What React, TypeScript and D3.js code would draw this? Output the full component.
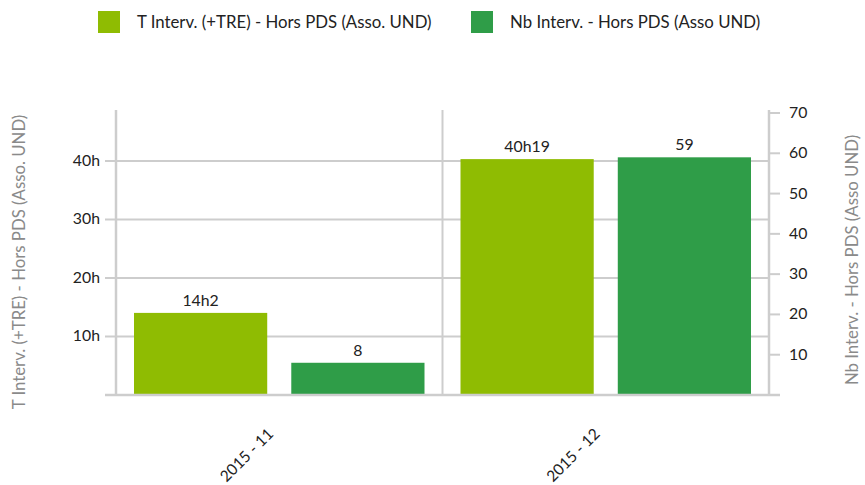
import React from 'react';
import * as d3 from 'd3';

const months = ['2015 - 11', '2015 - 12'];
const seriesNames = ['T Interv. (+TRE) - Hors PDS (Asso. UND)', 'Nb Interv. - Hors PDS (Asso UND)'];
const timeMinutes = [842, 2419]; // 14h2, 40h19
const counts = [8, 59];
const leftTicks = [10, 20, 30, 40];
const rightTicks = [10, 20, 30, 40, 50, 60, 70];
const colors = ['#8fbc02', '#2f9d48'];

const W = 865;
const H = 485;
const font = 'Lato, "Open Sans", sans-serif';
const grid = '#cdcdcd';

const fmtTime = (m: number) => `${Math.floor(m / 60)}h${m % 60}`;

export default function App() {
  const left = 116, right = 769, top = 110, bottom = 395;

  const x0 = d3.scaleBand().domain(months).range([left, right]).padding(0);
  const x1 = d3.scaleBand().domain(['t', 'n']).range([18, x0.bandwidth() - 18]).paddingInner(0.153).paddingOuter(0);
  const yL = d3.scaleLinear().domain([0, 48.2]).range([bottom, 113]);
  const yR = d3.scaleLinear().domain([0, 70]).range([bottom, 113]);

  return (
    <svg width={W} height={H} style={{ position: 'absolute', left: 0, top: 0 }}>
      <rect width={W} height={H} fill="#fff" />

      {/* legend */}
      {seriesNames.map((s, i) => {
        const lx = i === 0 ? 98 : 471;
        return (
          <g key={s}>
            <rect x={lx} y={11} width={22} height={22} fill={colors[i]} />
            <text x={lx + 39} y={28} fontFamily={font} fontSize={16.8} fill="#222">{s}</text>
          </g>
        );
      })}

      {/* horizontal grid + left ticks */}
      {leftTicks.map(t => (
        <g key={t}>
          <line x1={105} x2={right} y1={yL(t)} y2={yL(t)} stroke={grid} strokeWidth={2} />
          <text x={100} y={yL(t) + 5} textAnchor="end" fontFamily={font} fontSize={15.8} fill="#222">{t}h</text>
        </g>
      ))}

      {/* right ticks */}
      {rightTicks.map(t => (
        <g key={t}>
          <line x1={right} x2={780} y1={yR(t)} y2={yR(t)} stroke={grid} strokeWidth={2} />
          <text x={789} y={yR(t) + 5} fontFamily={font} fontSize={15.8} fill="#222">{t}</text>
        </g>
      ))}

      {/* vertical lines */}
      <line x1={left} x2={left} y1={top} y2={bottom} stroke={grid} strokeWidth={2.5} />
      <line x1={x0(months[1])} x2={x0(months[1])} y1={top} y2={bottom} stroke={grid} strokeWidth={2} />
      <line x1={right} x2={right} y1={top} y2={bottom} stroke={grid} strokeWidth={2.5} />

      {/* bars */}
      {months.map((m, i) => {
        const bx = x0(m)!;
        const tx = bx + x1('t')!;
        const nx = bx + x1('n')!;
        const bw = x1.bandwidth();
        return (
          <g key={m}>
            <rect x={tx} y={yL(timeMinutes[i] / 60)} width={bw} height={bottom - yL(timeMinutes[i] / 60)} fill={colors[0]} />
            <text x={tx + bw / 2} y={yL(timeMinutes[i] / 60) - 7} textAnchor="middle" fontFamily={font} fontSize={15.8} fill="#222">{fmtTime(timeMinutes[i])}</text>
            <rect x={nx} y={yR(counts[i])} width={bw} height={bottom - yR(counts[i])} fill={colors[1]} />
            <text x={nx + bw / 2} y={yR(counts[i]) - 7} textAnchor="middle" fontFamily={font} fontSize={15.8} fill="#222">{counts[i]}</text>
            <text transform={`translate(${bx + x0.bandwidth() / 2 - 5},${435}) rotate(-45)`} textAnchor="end" fontFamily={font} fontSize={15.5} fill="#222">{m}</text>
          </g>
        );
      })}

      {/* baseline */}
      <line x1={105} x2={780} y1={bottom} y2={bottom} stroke={grid} strokeWidth={2.5} />

      {/* axis titles */}
      <text transform={`translate(25,${262}) rotate(-90)`} textAnchor="middle" fontFamily={font} fontSize={16.8} fill="#8a8a8a">{seriesNames[0]}</text>
      <text transform={`translate(858,${260}) rotate(-90)`} textAnchor="middle" fontFamily={font} fontSize={16.8} fill="#8a8a8a">{seriesNames[1]}</text>
    </svg>
  );
}
